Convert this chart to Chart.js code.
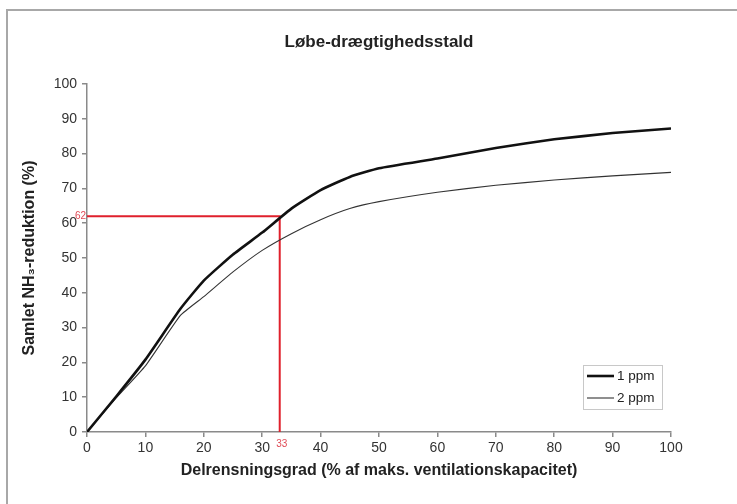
<!DOCTYPE html>
<html>
<head>
<meta charset="utf-8">
<script src="https://cdn.jsdelivr.net/npm/chart.js@4/dist/chart.umd.min.js"></script>
<style>
    body { margin: 0; background: #fff; }
    #wrap { position: relative; width: 737px; height: 504px; overflow: hidden; }
    #frame { position: absolute; left: 6px; top: 9px; width: 800px; height: 600px;
             border-top: 2px solid #a8a8a8; border-left: 2px solid #a8a8a8; }
    canvas { position: absolute; left: 0; top: 0; }
</style>
</head>
<body>
<div id="wrap">
    <div id="frame"></div>
    <canvas id="chart" width="737" height="504"></canvas>
</div>
<script>
// data
const chartTitle = 'Løbe-drægtighedsstald';
const xValues = [0, 5, 10, 16, 20, 25, 30, 35, 40, 45, 50, 60, 70, 80, 90, 100];
const ppm1 = [0, 10.2, 20.8, 35.4, 43.5, 51, 57.3, 64.2, 69.5, 73.3, 75.8, 78.6, 81.6, 84.1, 85.9, 87.2];
const ppm2 = [0, 9.8, 19, 33.5, 38.9, 46, 52.2, 57, 61, 64.2, 66.2, 68.9, 70.9, 72.4, 73.6, 74.6];
const seriesLabels = ['1 ppm', '2 ppm'];
const xTicks = [0, 10, 20, 30, 40, 50, 60, 70, 80, 90, 100];
const yTicks = [0, 10, 20, 30, 40, 50, 60, 70, 80, 90, 100];
const refX = 33;
const refY = 62;

const FONT = '"Liberation Sans", Arial, sans-serif';

function toPoints(ys) {
    return xValues.map((x, i) => ({ x: x, y: ys[i] }));
}

// title over the plot area, red marker labels, legend box
const extras = {
    id: 'extras',
    afterDraw(chart) {
        const ctx = chart.ctx;
        const area = chart.chartArea;
        const xs = chart.scales.x, ys = chart.scales.y;
        ctx.save();
        ctx.font = 'bold 17px ' + FONT;
        ctx.fillStyle = '#222';
        ctx.textAlign = 'center';
        ctx.textBaseline = 'middle';
        ctx.fillText(chartTitle, (area.left + area.right) / 2, 42);

        ctx.font = '10px ' + FONT;
        ctx.fillStyle = '#e04a55';
        ctx.textAlign = 'right';
        ctx.textBaseline = 'bottom';
        ctx.fillText(String(refY), xs.getPixelForValue(0) - 1, ys.getPixelForValue(refY) + 5);
        ctx.textAlign = 'center';
        ctx.textBaseline = 'top';
        ctx.fillText(String(refX), xs.getPixelForValue(refX) + 2, ys.getPixelForValue(0) + 7);

        // legend
        const bx = 583, by = 365, bw = 79, bh = 44;
        ctx.fillStyle = '#fff';
        ctx.fillRect(bx, by, bw, bh);
        ctx.strokeStyle = '#c8c8c8';
        ctx.lineWidth = 1;
        ctx.strokeRect(bx + 0.5, by + 0.5, bw, bh);
        ctx.font = '13.5px ' + FONT;
        ctx.textAlign = 'left';
        ctx.textBaseline = 'middle';
        [0, 1].forEach(i => {
            const ds = chart.data.datasets[i];
            const yy = by + 11 + i * 22;
            ctx.strokeStyle = ds.borderColor;
            ctx.lineWidth = ds.borderWidth;
            ctx.beginPath();
            ctx.moveTo(bx + 4, yy);
            ctx.lineTo(bx + 31, yy);
            ctx.stroke();
            ctx.fillStyle = '#222';
            ctx.fillText(seriesLabels[i], bx + 34, yy);
        });
        ctx.restore();
    }
};

new Chart(document.getElementById('chart'), {
    type: 'line',
    data: {
        datasets: [
            {
                label: seriesLabels[0],
                data: toPoints(ppm1),
                borderColor: '#111',
                borderWidth: 2.6,
                pointRadius: 0,
                tension: 0.15,
                order: 1
            },
            {
                label: seriesLabels[1],
                data: toPoints(ppm2),
                borderColor: '#333',
                borderWidth: 1.1,
                pointRadius: 0,
                tension: 0.15,
                order: 2
            },
            {
                label: 'ref',
                data: [{ x: 0, y: refY }, { x: refX, y: refY }, { x: refX, y: 0 }],
                borderColor: '#e0202c',
                borderWidth: 2,
                pointRadius: 0,
                tension: 0,
                order: 3
            }
        ]
    },
    plugins: [extras],
    options: {
        responsive: false,
        animation: false,
        layout: { padding: { left: 0, right: 66, top: 84, bottom: 0 } },
        plugins: {
            legend: { display: false },
            tooltip: { enabled: false },
            title: { display: false }
        },
        scales: {
            x: {
                type: 'linear',
                min: 0,
                max: 100,
                afterBuildTicks: s => { s.ticks = xTicks.map(v => ({ value: v })); },
                afterFit: s => { s.height = 72; },
                grid: { drawOnChartArea: false, drawTicks: true, tickLength: 5, color: '#8a8a8a', lineWidth: 1.5 },
                border: { display: true, color: '#8a8a8a', width: 1.5 },
                ticks: { color: '#333', padding: 3, font: { family: FONT, size: 14 } },
                title: {
                    display: true,
                    text: 'Delrensningsgrad (% af maks. ventilationskapacitet)',
                    color: '#222',
                    font: { family: FONT, size: 16, weight: 'bold' },
                    padding: { top: 6, bottom: 24 }
                }
            },
            y: {
                min: 0,
                max: 100,
                afterBuildTicks: s => { s.ticks = yTicks.map(v => ({ value: v })); },
                afterFit: s => { s.width = 87; },
                grid: { drawOnChartArea: false, drawTicks: true, tickLength: 5, color: '#8a8a8a', lineWidth: 1.5 },
                border: { display: true, color: '#8a8a8a', width: 1.5 },
                ticks: { color: '#333', padding: 5, font: { family: FONT, size: 14 } },
                title: {
                    display: true,
                    text: 'Samlet NH₃-reduktion (%)',
                    color: '#222',
                    font: { family: FONT, size: 16, weight: 'bold' },
                    padding: { top: 20, bottom: 0 }
                }
            }
        }
    }
});
</script>
</body>
</html>
